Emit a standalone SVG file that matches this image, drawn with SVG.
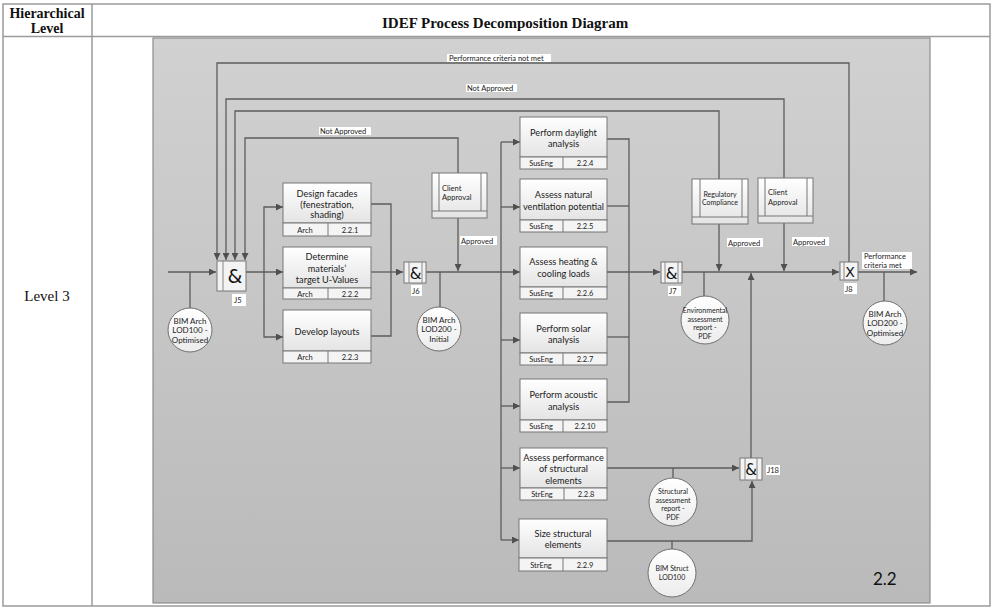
<svg xmlns="http://www.w3.org/2000/svg" width="992" height="609" viewBox="0 0 992 609">
  <defs>
    <linearGradient id="panelFill" x1="0" y1="0" x2="0" y2="1">
      <stop offset="0" stop-color="#d1d1d1"/>
      <stop offset="1" stop-color="#bababa"/>
    </linearGradient>
    <linearGradient id="boxFill" x1="0" y1="0" x2="0" y2="1">
      <stop offset="0" stop-color="#ffffff"/>
      <stop offset="1" stop-color="#e4e4e4"/>
    </linearGradient>
    <linearGradient id="circleFill" x1="0" y1="0" x2="0" y2="1">
      <stop offset="0" stop-color="#ffffff"/>
      <stop offset="1" stop-color="#ececec"/>
    </linearGradient>
    <marker id="arrow" viewBox="0 0 8 8" refX="8" refY="4" markerWidth="7" markerHeight="7" markerUnits="userSpaceOnUse" orient="auto">
      <path d="M0,0 L8,4 L0,8 z" fill="#505050"/>
    </marker>
    <style>
      .tbl { fill: none; stroke: #9a9a9a; stroke-width: 1.5; }
      .hdr { font-family: "Liberation Serif", "Times New Roman", serif; font-weight: bold; font-size: 14px; fill: #111; text-anchor: middle; }
      .title { font-family: "Liberation Serif", "Times New Roman", serif; font-weight: bold; font-size: 15px; fill: #111; text-anchor: start; }
      .lvl { font-family: "Liberation Serif", "Times New Roman", serif; font-size: 15px; fill: #111; text-anchor: middle; }
      .box { fill: url(#boxFill); stroke: #777; stroke-width: 1; }
      .sub { fill: #f4f4f4; stroke: #777; stroke-width: 1; }
      .t { font-family: Lato, "Open Sans", sans-serif; font-size: 9.2px; fill: #222; text-anchor: middle; }
      .ts { font-family: Lato, "Open Sans", sans-serif; font-size: 7.5px; fill: #222; text-anchor: middle; }
      .tc { font-family: Lato, "Open Sans", sans-serif; font-size: 8px; fill: #222; text-anchor: middle; }
      .tcs { font-family: Lato, "Open Sans", sans-serif; font-size: 7px; fill: #222; text-anchor: middle; }
      .tl { font-family: Lato, "Open Sans", sans-serif; font-size: 7.5px; fill: #222; }
      .lblbg { fill: #ffffff; }
      .circ { fill: url(#circleFill); stroke: #707070; stroke-width: 1; }
      .jbox { fill: #f3f3f3; stroke: #777; stroke-width: 1; }
      .jline { stroke: #888; stroke-width: 1; }
      .jsym { font-family: "DejaVu Sans", sans-serif; fill: #111; text-anchor: middle; }
      .conn path { fill: none; stroke: #5c5c5c; stroke-width: 1.3; }
      .conn path.a { marker-end: url(#arrow); }
    </style>
  </defs>

  <!-- table frame -->
  <rect x="0" y="0" width="992" height="609" fill="#ffffff"/>
  <g id="table">
    <rect class="tbl" x="3" y="4" width="987" height="602"/>
    <line class="tbl" x1="3" y1="36.5" x2="990" y2="36.5" stroke-width="2"/>
    <line class="tbl" x1="92" y1="4" x2="92" y2="606"/>
    <text class="hdr" x="47" y="18">Hierarchical</text>
    <text class="hdr" x="47" y="33">Level</text>
    <text class="title" x="382" y="28">IDEF Process Decomposition Diagram</text>
    <text class="lvl" x="47" y="301">Level 3</text>
  </g>

  <!-- diagram panel -->
  <rect id="panel" x="153" y="38" width="777" height="565" fill="url(#panelFill)" stroke="#8c8c8c" stroke-width="1.2"/>

  <!-- connectors -->
  <g id="connectors" class="conn">
    <!-- feedback loops into J5 -->
    <path class="a" d="M849,262 V63 H217 V260"/>
    <path class="a" d="M784,178 V99 H226 V260"/>
    <path class="a" d="M719,179 V111 H235 V260"/>
    <path class="a" d="M458,173 V138 H245 V260"/>
    <!-- input to J5 -->
    <path class="a" d="M168,272 H216"/>
    <path d="M190,272 V308"/>
    <!-- J5 fan-out -->
    <path class="a" d="M246,272 H283"/>
    <path class="a" d="M264,272 V207 H283"/>
    <path class="a" d="M264,272 V337 H283"/>
    <!-- facade / layout outputs -->
    <path d="M371,204 H391 V336 H371"/>
    <path class="a" d="M371,272 H403"/>
    <!-- J6 onward -->
    <path class="a" d="M426,272 H520"/>
    <path d="M440,272 V307"/>
    <path class="a" d="M458,218 V271"/>
    <!-- analysis fan-out -->
    <path d="M501,142 V540"/>
    <path class="a" d="M501,142 H520"/>
    <path class="a" d="M501,207 H520"/>
    <path class="a" d="M501,340 H520"/>
    <path class="a" d="M501,406 H520"/>
    <path class="a" d="M501,468 H520"/>
    <path class="a" d="M501,540 H519"/>
    <!-- analysis outputs -->
    <path d="M607,139 H629 V402 H607"/>
    <path d="M607,206 H629"/>
    <path d="M607,337 H629"/>
    <path class="a" d="M607,272 H660"/>
    <!-- J7 to J8 -->
    <path class="a" d="M682,272 H839"/>
    <path d="M704,272 V296"/>
    <path class="a" d="M719,224 V271"/>
    <path class="a" d="M784,223 V271"/>
    <!-- J8 output -->
    <path class="a" d="M858,272 H917"/>
    <path d="M884,272 V301"/>
    <!-- structural branch -->
    <path class="a" d="M607,468 H739"/>
    <path d="M673,468 V478"/>
    <path class="a" d="M607,541 H752 V481"/>
    <path d="M672,541 V549"/>
    <path class="a" d="M751,458 V273"/>
  </g>

  <!-- connector labels -->
  <g id="labels">
    <rect class="lblbg" x="447" y="54" width="104" height="8"/>
    <text class="tl" x="449" y="61">Performance criteria not met</text>
    <rect class="lblbg" x="466" y="84" width="51" height="8"/>
    <text class="tl" x="467" y="91">Not Approved</text>
    <rect class="lblbg" x="319" y="127" width="52" height="8"/>
    <text class="tl" x="320" y="134">Not Approved</text>
    <rect class="lblbg" x="460" y="236" width="37" height="9"/>
    <text class="tl" x="461" y="243.5">Approved</text>
    <rect class="lblbg" x="727" y="238" width="36" height="9"/>
    <text class="tl" x="728" y="245.5">Approved</text>
    <rect class="lblbg" x="792" y="237" width="37" height="9"/>
    <text class="tl" x="793" y="244.5">Approved</text>
    <rect class="lblbg" x="862" y="252" width="50" height="17"/>
    <text class="tl" x="864" y="259">Performance</text>
    <text class="tl" x="864" y="268">criteria met</text>
  </g>

  <!-- activities -->
  <g id="a221">
    <rect class="box" x="283" y="183" width="88" height="40"/>
    <rect class="sub" x="283" y="223" width="88" height="13"/>
    <line x1="328" y1="223" x2="328" y2="236" stroke="#777"/>
    <text class="t" x="327" y="196.5">Design facades</text>
    <text class="t" x="327" y="207.5">(fenestration,</text>
    <text class="t" x="327" y="218">shading)</text>
    <text class="ts" x="305" y="232.5">Arch</text>
    <text class="ts" x="350" y="232.5">2.2.1</text>
  </g>
  <g id="a222">
    <rect class="box" x="283" y="247" width="88" height="41"/>
    <rect class="sub" x="283" y="288" width="88" height="11"/>
    <line x1="328" y1="288" x2="328" y2="299" stroke="#777"/>
    <text class="t" x="327" y="259.5">Determine</text>
    <text class="t" x="327" y="271.5">materials’</text>
    <text class="t" x="327" y="282.5">target U-Values</text>
    <text class="ts" x="305" y="296.5">Arch</text>
    <text class="ts" x="350" y="296.5">2.2.2</text>
  </g>
  <g id="a223">
    <rect class="box" x="283" y="310" width="88" height="41"/>
    <rect class="sub" x="283" y="351" width="88" height="12"/>
    <line x1="328" y1="351" x2="328" y2="363" stroke="#777"/>
    <text class="t" x="327" y="334.5">Develop layouts</text>
    <text class="ts" x="305" y="360">Arch</text>
    <text class="ts" x="350" y="360">2.2.3</text>
  </g>
  <g id="a224">
    <rect class="box" x="520" y="117" width="87" height="40"/>
    <rect class="sub" x="520" y="157" width="87" height="12"/>
    <line x1="563" y1="157" x2="563" y2="169" stroke="#777"/>
    <text class="t" x="563.5" y="135.5">Perform daylight</text>
    <text class="t" x="563.5" y="146.5">analysis</text>
    <text class="ts" x="541" y="166">SusEng</text>
    <text class="ts" x="585" y="166">2.2.4</text>
  </g>
  <g id="a225">
    <rect class="box" x="520" y="179" width="87" height="41"/>
    <rect class="sub" x="520" y="220" width="87" height="12"/>
    <line x1="563" y1="220" x2="563" y2="232" stroke="#777"/>
    <text class="t" x="563.5" y="197.5">Assess natural</text>
    <text class="t" x="563.5" y="209.5">ventilation potential</text>
    <text class="ts" x="541" y="229">SusEng</text>
    <text class="ts" x="585" y="229">2.2.5</text>
  </g>
  <g id="a226">
    <rect class="box" x="520" y="247" width="87" height="40"/>
    <rect class="sub" x="520" y="287" width="87" height="12"/>
    <line x1="563" y1="287" x2="563" y2="299" stroke="#777"/>
    <text class="t" x="563.5" y="264.5">Assess heating &amp;</text>
    <text class="t" x="563.5" y="276.5">cooling loads</text>
    <text class="ts" x="541" y="296">SusEng</text>
    <text class="ts" x="585" y="296">2.2.6</text>
  </g>
  <g id="a227">
    <rect class="box" x="520" y="313" width="87" height="40"/>
    <rect class="sub" x="520" y="353" width="87" height="12"/>
    <line x1="563" y1="353" x2="563" y2="365" stroke="#777"/>
    <text class="t" x="563.5" y="331.5">Perform solar</text>
    <text class="t" x="563.5" y="342.5">analysis</text>
    <text class="ts" x="541" y="362">SusEng</text>
    <text class="ts" x="585" y="362">2.2.7</text>
  </g>
  <g id="a2210">
    <rect class="box" x="520" y="379" width="87" height="41"/>
    <rect class="sub" x="520" y="420" width="87" height="12"/>
    <line x1="563" y1="420" x2="563" y2="432" stroke="#777"/>
    <text class="t" x="563.5" y="397.5">Perform acoustic</text>
    <text class="t" x="563.5" y="409.5">analysis</text>
    <text class="ts" x="541" y="429">SusEng</text>
    <text class="ts" x="585" y="429">2.2.10</text>
  </g>
  <g id="a228">
    <rect class="box" x="520" y="448" width="87" height="40"/>
    <rect class="sub" x="520" y="488" width="87" height="12"/>
    <line x1="564" y1="488" x2="564" y2="500" stroke="#777"/>
    <text class="t" x="563.5" y="460.5">Assess performance</text>
    <text class="t" x="563.5" y="472">of structural</text>
    <text class="t" x="563.5" y="483.5">elements</text>
    <text class="ts" x="542" y="497">StrEng</text>
    <text class="ts" x="586" y="497">2.2.8</text>
  </g>
  <g id="a229">
    <rect class="box" x="519" y="519" width="88" height="39"/>
    <rect class="sub" x="519" y="558" width="88" height="13"/>
    <line x1="563" y1="558" x2="563" y2="571" stroke="#777"/>
    <text class="t" x="563" y="536.5">Size structural</text>
    <text class="t" x="563" y="548">elements</text>
    <text class="ts" x="541" y="567.5">StrEng</text>
    <text class="ts" x="585" y="567.5">2.2.9</text>
  </g>

  <!-- decision / review boxes -->
  <g id="clientApproval1">
    <rect class="box" x="432" y="173" width="55" height="45"/>
    <line x1="439" y1="173" x2="439" y2="211" stroke="#777"/>
    <line x1="481" y1="173" x2="481" y2="211" stroke="#777"/>
    <line x1="432" y1="211" x2="487" y2="211" stroke="#777"/>
    <text class="tl" x="442" y="190.5">Client</text>
    <text class="tl" x="442" y="200">Approval</text>
  </g>
  <g id="regulatoryCompliance">
    <rect class="box" x="692" y="179" width="56" height="45"/>
    <line x1="700" y1="179" x2="700" y2="217" stroke="#777"/>
    <line x1="742" y1="179" x2="742" y2="217" stroke="#777"/>
    <line x1="692" y1="217" x2="748" y2="217" stroke="#777"/>
    <text class="tcs" x="720" y="196.5">Regulatory</text>
    <text class="tcs" x="720" y="205">Compliance</text>
  </g>
  <g id="clientApproval2">
    <rect class="box" x="758" y="178" width="55" height="45"/>
    <line x1="765" y1="178" x2="765" y2="216" stroke="#777"/>
    <line x1="807" y1="178" x2="807" y2="216" stroke="#777"/>
    <line x1="758" y1="216" x2="813" y2="216" stroke="#777"/>
    <text class="tl" x="768" y="195">Client</text>
    <text class="tl" x="768" y="204.5">Approval</text>
  </g>

  <!-- junctions -->
  <g id="J5">
    <rect class="jbox" x="217" y="261" width="29" height="30"/>
    <line class="jline" x1="223" y1="261" x2="223" y2="291"/>
    <text class="jsym" x="235" y="283" font-size="19">&amp;</text>
    <rect class="lblbg" x="232" y="294" width="14" height="12"/>
    <text class="tl" x="234" y="302.5">J5</text>
  </g>
  <g id="J6">
    <rect class="jbox" x="404" y="262" width="22" height="21"/>
    <line class="jline" x1="409" y1="262" x2="409" y2="283"/>
    <line class="jline" x1="422" y1="262" x2="422" y2="283"/>
    <text class="jsym" x="415.5" y="279" font-size="15">&amp;</text>
    <rect class="lblbg" x="411" y="285" width="11" height="11"/>
    <text class="tl" x="412" y="293.5">J6</text>
  </g>
  <g id="J7">
    <rect class="jbox" x="661" y="262" width="21" height="21"/>
    <line class="jline" x1="665" y1="262" x2="665" y2="283"/>
    <line class="jline" x1="678" y1="262" x2="678" y2="283"/>
    <text class="jsym" x="671.5" y="278.5" font-size="15">&amp;</text>
    <rect class="lblbg" x="668" y="286" width="13" height="10"/>
    <text class="tl" x="669" y="294">J7</text>
  </g>
  <g id="J8">
    <rect class="jbox" x="840" y="262" width="18" height="18"/>
    <line class="jline" x1="844" y1="262" x2="844" y2="280"/>
    <text class="jsym" x="850" y="277" font-size="14">X</text>
    <rect class="lblbg" x="844" y="283" width="13" height="11"/>
    <text class="tl" x="845" y="291.5">J8</text>
  </g>
  <g id="J18">
    <rect class="jbox" x="740" y="458" width="22" height="22"/>
    <line class="jline" x1="745" y1="458" x2="745" y2="480"/>
    <line class="jline" x1="757" y1="458" x2="757" y2="480"/>
    <text class="jsym" x="751" y="475" font-size="15">&amp;</text>
    <rect class="lblbg" x="766" y="465" width="14" height="10"/>
    <text class="tl" x="767" y="473">J18</text>
  </g>

  <!-- data objects -->
  <g id="bimArchLod100Opt">
    <circle class="circ" cx="190" cy="330" r="22"/>
    <text class="tc" x="190" y="323.5">BIM Arch</text>
    <text class="tc" x="190" y="333">LOD100 -</text>
    <text class="tc" x="190" y="342.5">Optimised</text>
  </g>
  <g id="bimArchLod200Init">
    <circle class="circ" cx="439" cy="329" r="22"/>
    <text class="tc" x="439" y="322.5">BIM Arch</text>
    <text class="tc" x="439" y="332">LOD200 -</text>
    <text class="tc" x="439" y="341.5">Initial</text>
  </g>
  <g id="envReport">
    <circle class="circ" cx="705" cy="320" r="24"/>
    <text class="tcs" x="705" y="313">Environmental</text>
    <text class="tcs" x="705" y="321.5">assessment</text>
    <text class="tcs" x="705" y="330">report -</text>
    <text class="tcs" x="705" y="338.5">PDF</text>
  </g>
  <g id="bimArchLod200Opt">
    <circle class="circ" cx="885" cy="323" r="22"/>
    <text class="tc" x="885" y="316.5">BIM Arch</text>
    <text class="tc" x="885" y="326">LOD200 -</text>
    <text class="tc" x="885" y="335.5">Optimised</text>
  </g>
  <g id="structReport">
    <circle class="circ" cx="673" cy="502" r="24"/>
    <text class="tcs" x="673" y="494">Structural</text>
    <text class="tcs" x="673" y="502.5">assessment</text>
    <text class="tcs" x="673" y="511">report -</text>
    <text class="tcs" x="673" y="519.5">PDF</text>
  </g>
  <g id="bimStructLod100">
    <circle class="circ" cx="672" cy="573" r="24"/>
    <text class="tcs" x="672" y="571">BIM Struct</text>
    <text class="tcs" x="672" y="580">LOD100</text>
  </g>

  <text x="873" y="585" font-family="Lato, 'Open Sans', sans-serif" font-size="17" fill="#111">2.2</text>
</svg>
